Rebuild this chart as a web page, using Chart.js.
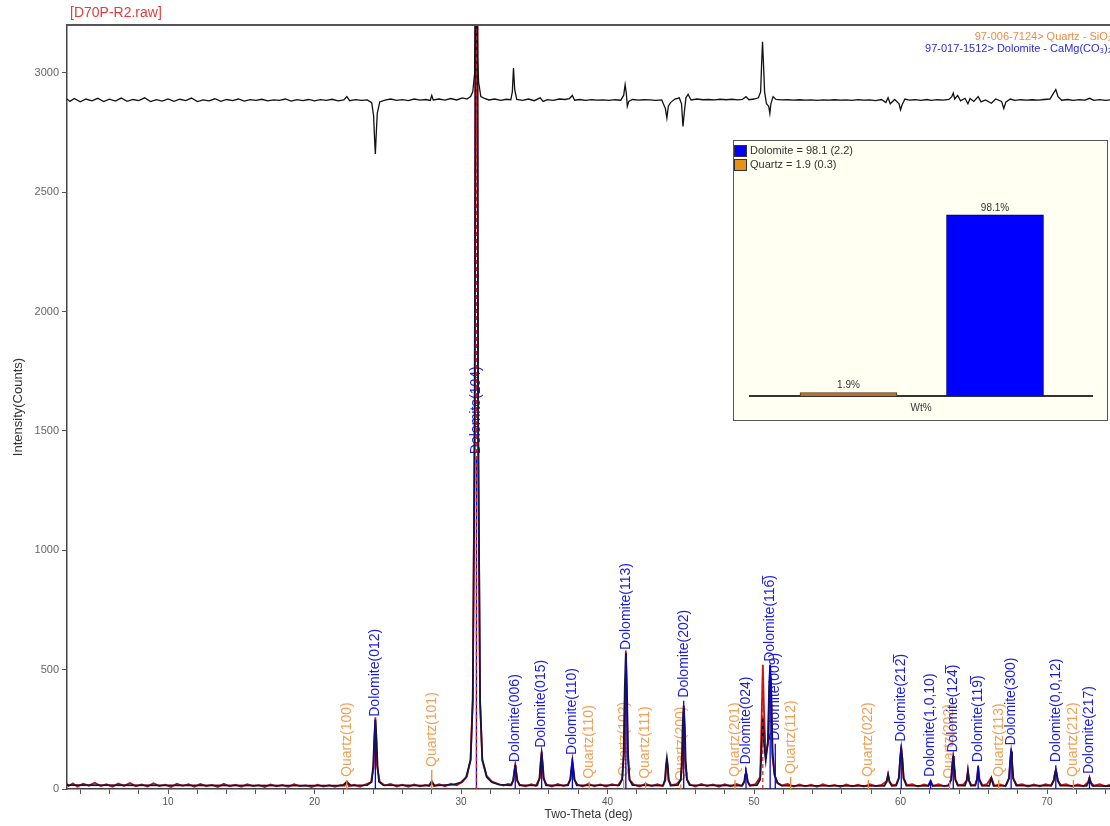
<!DOCTYPE html>
<html>
<head>
<meta charset="utf-8">
<script src="https://cdn.jsdelivr.net/npm/chart.js@4.4.0/dist/chart.umd.min.js"></script>
<style>
html, body { margin: 0; padding: 0; background: #fff; }
#wrap { position: relative; width: 1110px; height: 826px; }
#inset { position: absolute; left: 733px; top: 140px; width: 373px; height: 279px; border: 1px solid #555; background: #fffff2; }
</style>
</head>
<body>
<div id="wrap">
  <canvas id="xrd" width="1110" height="826"></canvas>
  <div id="inset"><canvas id="wt" width="373" height="279"></canvas></div>
</div>
<script>
// scan name + reference cards
const scanTitle = '[D70P-R2.raw]';
const refCards = ['97-006-7124> Quartz - SiO\u2082', '97-017-1512> Dolomite - CaMg(CO\u2083)\u2082'];

// axes
const xTitle = 'Two-Theta (deg)';
const yTitle = 'Intensity(Counts)';
const xTickValues = [4, 6, 8, 10, 12, 14, 16, 18, 20, 22, 24, 26, 28, 30, 32, 34, 36, 38, 40, 42, 44, 46, 48, 50, 52, 54, 56, 58, 60, 62, 64, 66, 68, 70, 72, 74];
const xTickLabels = [10, 20, 30, 40, 50, 60, 70];
const yTickValues = [0, 500, 1000, 1500, 2000, 2500, 3000];

// observed scan (2theta, counts)
const obsPattern = [
  [3.0,30],[3.2,12],[3.5,24],[3.8,10],[4.2,22],[4.6,14],[5.0,26],[5.4,12],[5.8,20],[6.2,9],[6.6,23],[7.0,13],[7.4,25],[7.8,11],
  [8.2,19],[8.6,10],[9.0,24],[9.4,12],[9.8,18],[10.2,8],[10.6,22],[11.0,13],[11.4,20],[11.8,9],[12.2,21],[12.6,12],[13.0,17],
  [13.4,8],[13.8,22],[14.2,11],[14.6,18],[15.0,9],[15.4,20],[15.8,12],[16.2,16],[16.6,8],[17.0,19],[17.4,11],[17.8,17],[18.2,9],
  [18.6,20],[19.0,12],[19.4,15],[19.8,8],[20.2,18],[20.6,10],[21.0,16],[21.4,9],[21.8,17],
  [22.05,14],[22.2,30],[22.35,12],[22.7,18],[23.1,9],[23.5,20],
  [23.85,28],[24.03,90],[24.1,215],[24.15,300],[24.2,225],[24.27,95],[24.45,30],[24.8,15],[25.2,21],[25.6,10],[26.0,18],[26.4,9],
  [26.8,19],[27.2,11],[27.6,17],[27.85,13],[28.0,32],[28.15,12],[28.5,20],[28.9,11],[29.3,22],[29.7,16],
  [30.1,30],[30.4,52],[30.65,125],[30.8,380],[30.93,1550],[31.0,3700],[31.05,5100],[31.1,3700],[31.17,1450],[31.3,360],[31.45,125],
  [31.75,55],[32.1,32],[32.5,22],[32.9,14],[33.2,21],
  [33.45,18],[33.58,38],[33.65,80],[33.7,100],[33.75,78],[33.82,36],[34.0,18],[34.4,11],[34.8,20],[35.1,13],
  [35.38,46],[35.45,118],[35.5,155],[35.55,112],[35.62,44],[35.85,18],[36.2,10],[36.6,21],[37.0,12],[37.3,20],
  [37.48,42],[37.55,92],[37.6,120],[37.65,88],[37.72,40],[37.95,19],[38.3,10],[38.7,22],[39.1,11],[39.5,19],[39.9,10],[40.3,20],[40.7,14],
  [41.0,42],[41.13,155],[41.2,440],[41.25,580],[41.3,425],[41.37,145],[41.5,38],[41.8,18],[42.2,10],[42.6,22],[43.0,12],[43.4,20],[43.75,13],
  [43.95,36],[44.0,95],[44.05,120],[44.1,92],[44.15,38],[44.35,16],[44.7,20],
  [45.0,38],[45.1,110],[45.15,255],[45.2,340],[45.25,250],[45.3,115],[45.42,40],[45.65,18],[46.0,10],[46.4,21],[46.8,12],[47.2,19],
  [47.6,9],[48.0,20],[48.4,11],[48.8,21],[49.15,13],
  [49.35,32],[49.42,62],[49.45,72],[49.5,60],[49.56,30],[49.75,15],[50.1,20],
  [50.42,50],[50.52,300],[50.6,520],[50.68,330],[50.8,140],[50.95,190],[51.05,400],[51.1,470],[51.15,400],[51.25,140],[51.4,58],
  [51.6,26],[51.9,15],[52.3,21],[52.7,10],[53.1,19],[53.5,11],[53.9,18],[54.3,9],[54.7,20],[55.1,12],[55.5,17],[55.9,9],[56.3,19],
  [56.7,11],[57.1,18],[57.5,10],[57.9,20],[58.3,12],[58.7,17],
  [59.05,32],[59.15,62],[59.25,30],[59.45,16],[59.7,18],[59.9,48],[59.98,135],[60.05,175],[60.12,128],[60.2,44],[60.45,16],[60.8,20],
  [61.2,10],[61.6,19],[61.9,14],[62.05,34],[62.2,13],[62.6,20],[63.0,11],[63.3,17],
  [63.47,42],[63.55,108],[63.6,138],[63.65,102],[63.73,40],[63.95,16],[64.3,19],[64.52,36],[64.6,78],[64.68,34],[64.85,16],[65.1,18],
  [65.22,42],[65.3,95],[65.38,40],[65.6,15],[65.9,20],[66.2,48],[66.4,14],[66.8,19],[67.15,12],
  [67.42,46],[67.5,125],[67.55,160],[67.6,118],[67.68,44],[67.95,16],[68.3,20],[68.7,10],[69.1,19],[69.5,11],[69.9,20],[70.25,14],
  [70.48,38],[70.55,70],[70.6,85],[70.65,66],[70.72,34],[70.95,16],[71.3,20],[71.7,11],[72.1,19],[72.5,12],
  [72.82,30],[72.9,48],[72.98,28],[73.2,14],[73.6,20],[74.0,11],[74.3,18]
];

// calculated (fitted) profile
const calcPattern = [
  [3,16],[10,15],[20,14],
  [21.9,14],[22.1,24],[22.2,32],[22.3,24],[22.5,14],
  [23.6,16],[23.9,30],[24.0,95],[24.08,220],[24.15,290],[24.22,220],[24.3,95],[24.4,30],[24.7,16],
  [27.8,14],[28.0,30],[28.2,14],
  [29.5,18],[30.0,28],[30.35,50],[30.65,120],[30.8,370],[30.93,1500],[31.0,3600],[31.05,5000],[31.1,3600],[31.17,1500],
  [31.3,370],[31.45,120],[31.75,50],[32.1,28],[32.6,18],
  [33.4,15],[33.55,35],[33.64,75],[33.7,95],[33.76,75],[33.85,35],[34.0,15],
  [35.2,15],[35.35,45],[35.44,115],[35.5,150],[35.56,115],[35.65,45],[35.8,15],
  [37.3,15],[37.45,40],[37.54,90],[37.6,115],[37.66,90],[37.75,40],[37.9,15],
  [40.8,16],[41.0,40],[41.1,150],[41.18,430],[41.25,570],[41.32,430],[41.4,150],[41.5,40],[41.7,16],
  [43.8,14],[43.92,40],[43.99,100],[44.05,130],[44.11,100],[44.18,40],[44.3,14],
  [44.8,16],[45.0,40],[45.07,120],[45.13,270],[45.2,350],[45.27,270],[45.33,120],[45.42,40],[45.6,16],
  [49.2,14],[49.33,30],[49.4,60],[49.45,70],[49.5,60],[49.58,30],[49.7,14],
  [50.2,16],[50.42,40],[50.52,180],[50.6,300],[50.68,190],[50.8,120],[50.95,200],[51.03,430],[51.1,520],[51.17,430],[51.27,150],
  [51.4,60],[51.6,25],[51.9,14],
  [58.9,13],[59.05,30],[59.15,60],[59.25,30],[59.4,13],
  [59.7,14],[59.88,45],[59.98,130],[60.05,170],[60.12,130],[60.22,45],[60.4,14],
  [61.9,13],[62.05,32],[62.2,13],
  [63.3,14],[63.45,40],[63.54,105],[63.6,135],[63.66,105],[63.75,40],[63.9,14],
  [64.4,14],[64.52,35],[64.6,75],[64.68,35],[64.8,14],
  [65.1,14],[65.22,40],[65.3,90],[65.38,40],[65.55,14],
  [66.05,13],[66.2,45],[66.35,13],
  [67.2,14],[67.4,45],[67.49,120],[67.55,155],[67.61,120],[67.7,45],[67.9,14],
  [70.3,14],[70.45,35],[70.54,65],[70.6,80],[70.66,65],[70.75,35],[70.9,14],
  [72.7,13],[72.82,28],[72.9,45],[72.98,28],[73.1,13],
  [74.3,12]
];

// difference curve (offset to the top of the plot)
const diffPattern = [
  [3,2895],[3.3,2880],[3.6,2892],[4.0,2878],[4.4,2890],[4.8,2882],[5.2,2893],[5.6,2879],[6.0,2889],[6.4,2881],[6.8,2894],[7.2,2880],
  [7.6,2888],[8.0,2883],[8.4,2895],[8.8,2879],[9.2,2887],[9.6,2881],[10.0,2890],[10.4,2880],[10.8,2889],[11.2,2883],[11.6,2894],
  [12.0,2879],[12.4,2886],[12.8,2882],[13.2,2891],[13.6,2880],[14.0,2888],[14.4,2883],[14.8,2890],[15.2,2881],[15.6,2887],[16.0,2884],
  [16.4,2889],[16.8,2882],[17.2,2886],[17.6,2884],[18.0,2890],[18.4,2881],[18.8,2887],[19.2,2883],[19.6,2888],[20.0,2882],[20.4,2887],
  [20.8,2884],[21.2,2889],[21.6,2882],[22.0,2886],[22.2,2900],[22.4,2883],[22.8,2887],[23.2,2884],[23.6,2886],
  [23.9,2875],[24.03,2820],[24.1,2720],[24.15,2660],[24.2,2730],[24.28,2830],[24.45,2878],[24.8,2885],[25.2,2890],[25.6,2884],
  [26.0,2887],[26.4,2883],[26.8,2890],[27.2,2885],[27.6,2888],[27.9,2884],[28.0,2905],[28.1,2886],[28.5,2890],[28.9,2885],[29.3,2892],
  [29.7,2886],[30.1,2895],[30.4,2890],[30.65,2900],[30.8,2920],[30.93,3000],[31.0,3500],[31.08,3500],[31.13,3060],[31.2,2960],
  [31.35,2900],[31.6,2893],[31.9,2886],[32.3,2890],[32.7,2884],[33.1,2889],[33.4,2887],
  [33.5,2920],[33.58,3020],[33.66,2930],[33.8,2888],[34.2,2884],[34.6,2890],[35.0,2883],[35.4,2895],[35.6,2880],[35.9,2887],
  [36.3,2884],[36.7,2890],[37.1,2888],[37.4,2892],[37.6,2905],[37.75,2885],[38.1,2888],[38.5,2884],[38.9,2887],[39.3,2885],
  [39.7,2886],[40.1,2884],[40.5,2887],[40.9,2885],
  [41.1,2905],[41.2,2950],[41.28,2915],[41.35,2860],[41.45,2880],[41.7,2888],[42.1,2885],[42.5,2887],[42.9,2886],[43.3,2884],
  [43.7,2886],[43.95,2850],[44.05,2810],[44.15,2860],[44.3,2875],[44.6,2890],[44.9,2895],[45.05,2870],[45.15,2775],[45.25,2840],
  [45.35,2895],[45.5,2910],[45.7,2886],[46.1,2890],[46.5,2887],[46.9,2888],[47.3,2886],[47.7,2889],[48.1,2887],[48.5,2889],
  [48.9,2886],[49.2,2888],[49.45,2900],[49.65,2887],[50.0,2890],[50.3,2895],
  [50.45,2920],[50.52,3040],[50.58,3130],[50.65,3030],[50.72,2920],[50.85,2870],[51.0,2860],[51.08,2830],[51.15,2870],[51.3,2900],
  [51.5,2888],[51.9,2886],[52.3,2887],[52.7,2885],[53.1,2887],[53.5,2885],[53.9,2886],[54.3,2884],[54.7,2886],[55.1,2885],
  [55.5,2887],[55.9,2885],[56.3,2886],[56.7,2884],[57.1,2887],[57.5,2885],[57.9,2886],[58.3,2883],[58.7,2888],
  [59.0,2875],[59.15,2895],[59.3,2870],[59.6,2888],[59.9,2870],[60.0,2845],[60.1,2865],[60.3,2890],[60.6,2885],[61.0,2887],
  [61.4,2884],[61.8,2888],[62.1,2884],[62.5,2887],[62.9,2885],[63.3,2888],[63.5,2900],[63.6,2915],[63.7,2890],[63.9,2905],
  [64.1,2882],[64.4,2893],[64.6,2870],[64.75,2892],[65.0,2880],[65.3,2900],[65.5,2878],[65.8,2886],[66.2,2872],[66.5,2890],
  [66.9,2880],[67.05,2850],[67.2,2878],[67.5,2890],[67.8,2884],[68.2,2887],[68.6,2885],[69.0,2887],[69.4,2885],[69.8,2888],
  [70.2,2890],[70.45,2915],[70.6,2930],[70.75,2900],[71.0,2885],[71.4,2888],[71.8,2884],[72.2,2887],[72.6,2885],[72.9,2893],
  [73.2,2884],[73.6,2887],[74.0,2884],[74.3,2886]
];

// reference sticks
const dolomiteTheta = [24.15, 31.05, 33.7, 35.5, 37.6, 41.25, 45.2, 49.45, 51.1, 51.45, 60.05, 62.05, 63.6, 65.3, 67.55, 70.6, 72.9];
const dolomiteStick = [290, 1390, 100, 160, 130, 570, 370, 90, 520, 190, 185, 38, 140, 100, 170, 100, 50];
const dolomiteHkl = ['012', '104', '006', '015', '110', '113', '202', '024', '116\u0305', '009', '212\u0305', '1,0,10', '124\u0305', '119\u0305', '300', '0,0,12', '217'];

const quartzTheta = [22.2, 28.0, 38.75, 41.1, 42.6, 45.0, 48.7, 52.5, 57.8, 63.35, 66.7, 71.8];
const quartzStick = [38, 80, 30, 40, 30, 20, 38, 50, 38, 30, 38, 38];
const quartzHkl = ['100', '101', '110', '102', '111', '200', '201', '112', '022', '202', '113', '212'];

const markerTheta = [31.05, 50.6];
const markerTop = [3300, 525];

// quantification inset
const phaseNames = ['Quartz', 'Dolomite'];
const phaseWt = [1.9, 98.1];
const phaseErr = [0.3, 2.2];
const insetAxisTitle = 'Wt%';

const FONT = '"Liberation Sans", Arial, sans-serif';

function sticks(theta, top) {
  const out = [];
  theta.forEach((t, i) => { out.push({x: t, y: 0}, {x: t, y: top[i]}, {x: t, y: null}); });
  return out;
}

const overlay = {
  id: 'overlay',
  beforeDatasetsDraw(chart) {
    const {ctx, scales: {x, y}} = chart;
    ctx.save();
    ctx.font = '14px ' + FONT;
    ctx.textAlign = 'left';
    ctx.textBaseline = 'middle';
    const put = (t, h, text, color) => {
      ctx.save();
      ctx.translate(x.getPixelForValue(t), y.getPixelForValue(h) - 3);
      ctx.rotate(-Math.PI / 2);
      ctx.fillStyle = color;
      ctx.fillText(text, 0, 0);
      ctx.restore();
    };
    quartzTheta.forEach((t, i) => put(t, quartzStick[i], 'Quartz(' + quartzHkl[i] + ')', '#f2a055'));
    dolomiteTheta.forEach((t, i) => put(t, dolomiteStick[i], 'Dolomite(' + dolomiteHkl[i] + ')', '#1c1ce0'));
    ctx.restore();
  },
  afterDraw(chart) {
    const {ctx, chartArea: a} = chart;
    ctx.save();
    ctx.strokeStyle = '#555';
    ctx.lineWidth = 2;
    ctx.beginPath();
    ctx.moveTo(a.left, a.top);
    ctx.lineTo(a.right, a.top);
    ctx.stroke();
    ctx.font = '14px ' + FONT;
    ctx.fillStyle = '#e23c3c';
    ctx.textBaseline = 'middle';
    ctx.textAlign = 'left';
    ctx.fillText(scanTitle, 70, 13);
    ctx.font = '11px ' + FONT;
    ctx.textAlign = 'right';
    ctx.fillStyle = '#f08a40';
    ctx.fillText(refCards[0], 1112, 37);
    ctx.fillStyle = '#2a2ae0';
    ctx.fillText(refCards[1], 1112, 49);
    ctx.restore();
  }
};

new Chart(document.getElementById('xrd'), {
  type: 'line',
  data: {
    datasets: [
      { label: 'Difference', data: diffPattern, borderColor: '#111', borderWidth: 1.3, order: 0 },
      { label: 'Marker', data: sticks(markerTheta, markerTop), borderColor: '#d42020', borderWidth: 1.2, borderDash: [4, 3], order: 1 },
      { label: 'Dolomite', data: sticks(dolomiteTheta, dolomiteStick), borderColor: '#0000ff', borderWidth: 1.3, order: 2 },
      { label: 'Quartz', data: sticks(quartzTheta, quartzStick), borderColor: '#f08a30', borderWidth: 1.3, order: 3 },
      { label: 'Calculated', data: calcPattern, borderColor: '#14143c', borderWidth: 1.8, order: 4 },
      { label: 'Observed', data: obsPattern, borderColor: '#cc1010', borderWidth: 1.8, order: 5 }
    ]
  },
  options: {
    responsive: false,
    animation: false,
    spanGaps: false,
    elements: { point: { radius: 0 }, line: { tension: 0 } },
    layout: { padding: { top: 25, left: 0, right: 0, bottom: 0 } },
    plugins: { legend: { display: false }, tooltip: { enabled: false } },
    scales: {
      x: {
        type: 'linear', min: 3.1, max: 74.3,
        afterBuildTicks: s => { s.ticks = xTickValues.map(v => ({ value: v })); },
        afterFit: s => { s.height = 37; },
        grid: { drawOnChartArea: false, tickLength: 5, color: '#555' },
        border: { color: '#444', width: 1.5 },
        ticks: { autoSkip: false, maxRotation: 0, padding: 2, color: '#555', font: { size: 10, family: FONT },
          callback: v => xTickLabels.includes(v) ? String(v) : '' },
        title: { display: true, text: xTitle, color: '#333', font: { size: 12, family: FONT }, padding: { top: 0, bottom: 4 } }
      },
      y: {
        min: 0, max: 3200,
        afterBuildTicks: s => { s.ticks = yTickValues.map(v => ({ value: v })); },
        afterFit: s => { s.width = 67; },
        grid: { drawOnChartArea: false, tickLength: 5, color: '#555' },
        border: { color: '#444', width: 1.5 },
        ticks: { padding: 3, color: '#666', font: { size: 11, family: FONT }, callback: v => String(v) },
        title: { display: true, text: yTitle, color: '#333', font: { size: 13, family: FONT }, padding: { top: 11, bottom: 0 } }
      }
    }
  },
  plugins: [overlay]
});

const insetDecor = {
  id: 'insetDecor',
  afterDraw(chart) {
    const ctx = chart.ctx;
    ctx.save();
    ctx.font = '11px ' + FONT;
    ctx.textBaseline = 'middle';
    ctx.textAlign = 'left';
    [1, 0].forEach((k, row) => {
      const top = 4 + row * 14;
      ctx.fillStyle = k === 1 ? '#0000ff' : '#e8901c';
      ctx.fillRect(0, top, 13, 12);
      ctx.strokeStyle = '#333';
      ctx.lineWidth = 1;
      ctx.strokeRect(0.5, top + 0.5, 12, 11);
      ctx.fillStyle = '#333';
      ctx.fillText(phaseNames[k] + ' = ' + phaseWt[k] + ' (' + phaseErr[k] + ')', 16, top + 6);
    });
    ctx.font = '10px ' + FONT;
    ctx.textAlign = 'center';
    ctx.textBaseline = 'bottom';
    chart.getDatasetMeta(0).data.forEach((bar, i) => {
      ctx.fillText(phaseWt[i] + '%', bar.x, bar.y - 2);
    });
    ctx.restore();
  }
};

new Chart(document.getElementById('wt'), {
  type: 'bar',
  data: {
    datasets: [{
      data: phaseWt.map((w, i) => ({ x: i + 1, y: w })),
      backgroundColor: ['#b4702c', '#0000ff'],
      borderColor: ['#5a3210', '#00006a'],
      borderWidth: 1,
      barThickness: 97
    }]
  },
  options: {
    responsive: false,
    animation: false,
    layout: { padding: { left: 16, right: 15, top: 30, bottom: 0 } },
    plugins: { legend: { display: false }, tooltip: { enabled: false } },
    scales: {
      x: {
        type: 'linear', min: 0.328, max: 2.662, offset: false,
        afterFit: s => { s.height = 24; },
        grid: { display: false },
        border: { color: '#333', width: 2 },
        ticks: { display: false },
        title: { display: true, text: insetAxisTitle, color: '#333', font: { size: 10, family: FONT }, padding: { top: 0, bottom: 6 } }
      },
      y: { display: false, min: 0, max: 121.9 }
    }
  },
  plugins: [insetDecor]
});
</script>
</body>
</html>
